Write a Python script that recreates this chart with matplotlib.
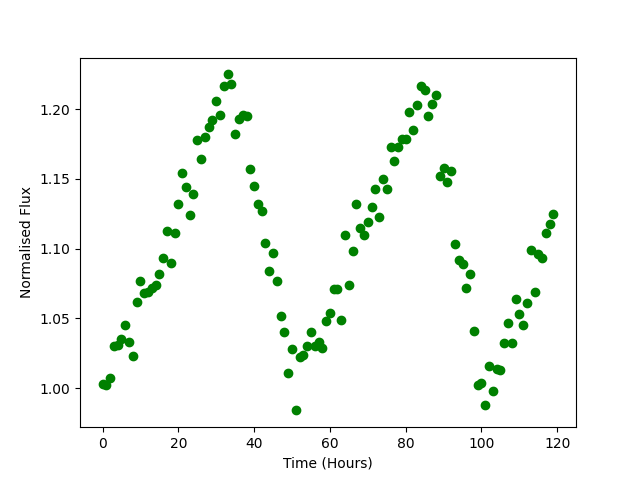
import numpy as np
import matplotlib
matplotlib.use('Agg')
import matplotlib.pyplot as plt

time = np.arange(120)
flux = [1.003, 1.002, 1.007, 1.030, 1.031, 1.035, 1.045, 1.033, 1.023, 1.062,
        1.077, 1.068, 1.069, 1.072, 1.074, 1.082, 1.093, 1.113, 1.090, 1.111,
        1.132, 1.154, 1.144, 1.124, 1.139, 1.178, 1.164, 1.180, 1.187, 1.192,
        1.206, 1.196, 1.217, 1.225, 1.218, 1.182, 1.193, 1.196, 1.195, 1.157,
        1.145, 1.132, 1.127, 1.104, 1.084, 1.097, 1.077, 1.052, 1.040, 1.011,
        1.028, 0.984, 1.022, 1.024, 1.030, 1.040, 1.030, 1.033, 1.029, 1.048,
        1.054, 1.071, 1.071, 1.049, 1.110, 1.074, 1.098, 1.132, 1.115, 1.110,
        1.119, 1.130, 1.143, 1.123, 1.150, 1.143, 1.173, 1.163, 1.173, 1.179,
        1.179, 1.198, 1.185, 1.203, 1.217, 1.214, 1.195, 1.204, 1.210, 1.152,
        1.158, 1.148, 1.156, 1.103, 1.092, 1.089, 1.072, 1.082, 1.041, 1.002,
        1.004, 0.988, 1.016, 0.998, 1.014, 1.013, 1.032, 1.047, 1.032, 1.064,
        1.053, 1.045, 1.061, 1.099, 1.069, 1.096, 1.093, 1.111, 1.118, 1.125]

plt.figure(figsize=(6.4, 4.8), dpi=100)
plt.plot(time, flux, 'go')
plt.xlabel('Time (Hours)')
plt.ylabel('Normalised Flux')
plt.savefig('out.png')
